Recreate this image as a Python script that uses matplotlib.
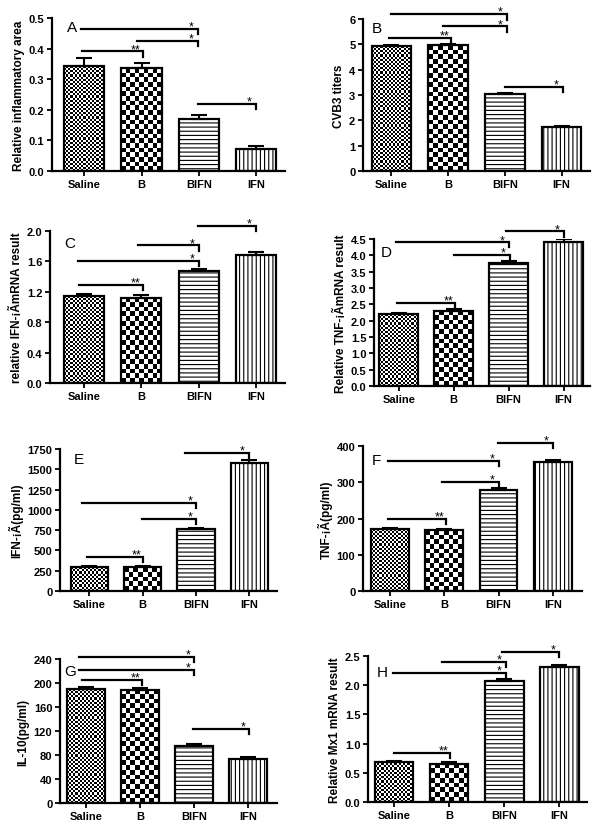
import numpy as np
import matplotlib
matplotlib.use('Agg')
import matplotlib.pyplot as plt
from matplotlib.ticker import FormatStrFormatter

plt.rcParams['font.family'] = ['Liberation Sans', 'DejaVu Sans']
plt.rcParams['hatch.linewidth'] = 0.8

categories = ['Saline', 'B', 'BIFN', 'IFN']

# ---- Panel A ----
a_vals = [0.342, 0.335, 0.169, 0.072]
a_err = [0.027, 0.019, 0.014, 0.009]
a_ticks = [0.0, 0.1, 0.2, 0.3, 0.4, 0.5]
a_sig_start = [-0.06, 0.92, -0.04, 1.99]
a_sig_end = [1.99, 1.99, 1.02, 3.0]
a_sig_y = [0.465, 0.426, 0.391, 0.22]
a_sig_label = ['*', '*', '**', '*']

# ---- Panel B ----
b_vals = [4.93, 4.96, 3.03, 1.73]
b_err = [0.03, 0.05, 0.03, 0.05]
b_ticks = [0, 1, 2, 3, 4, 5, 6]
b_sig_start = [0.0, 0.91, -0.04, 2.0]
b_sig_end = [2.03, 2.03, 1.05, 3.03]
b_sig_y = [6.19, 5.71, 5.25, 3.31]
b_sig_label = ['*', '*', '**', '*']

# ---- Panel C ----
c_vals = [1.14, 1.12, 1.47, 1.68]
c_err = [0.035, 0.04, 0.03, 0.05]
c_ticks = [0.0, 0.4, 0.8, 1.2, 1.6, 2.0]
c_sig_start = [1.99, 0.94, -0.11, -0.09]
c_sig_end = [3.0, 2.0, 2.0, 1.02]
c_sig_y = [2.07, 1.81, 1.605, 1.29]
c_sig_label = ['*', '*', '*', '**']

# ---- Panel D ----
d_vals = [2.20, 2.31, 3.78, 4.42]
d_err = [0.03, 0.04, 0.04, 0.08]
d_ticks = [0.0, 0.5, 1.0, 1.5, 2.0, 2.5, 3.0, 3.5, 4.0, 4.5]
d_sig_start = [1.95, -0.05, 1.01, -0.04]
d_sig_end = [3.01, 2.0, 2.02, 1.03]
d_sig_y = [4.73, 4.40, 4.02, 2.55]
d_sig_label = ['*', '*', '*', '**']

# ---- Panel E ----
e_vals = [295, 295, 760, 1582]
e_err = [8, 8, 22, 37]
e_ticks = [0, 250, 500, 750, 1000, 1250, 1500, 1750]
e_sig_start = [1.79, -0.13, 0.98, -0.04]
e_sig_end = [2.99, 2.01, 2.01, 1.01]
e_sig_y = [1705, 1086, 889, 422]
e_sig_label = ['*', '*', '*', '**']

# ---- Panel F ----
f_vals = [171, 168, 279, 356]
f_err = [4, 4, 5, 5]
f_ticks = [0, 100, 200, 300, 400]
f_sig_start = [1.99, -0.03, 0.95, -0.03]
f_sig_end = [3.0, 2.01, 2.01, 1.03]
f_sig_y = [409, 358, 302, 198]
f_sig_label = ['*', '*', '*', '**']

# ---- Panel G ----
g_vals = [189.5, 189, 95.5, 73]
g_err = [4.5, 3.5, 3.5, 4]
g_ticks = [0, 40, 80, 120, 160, 200, 240]
g_sig_start = [-0.13, -0.13, -0.08, 1.97]
g_sig_end = [2.0, 2.0, 1.04, 3.02]
g_sig_y = [244, 222, 205, 123]
g_sig_label = ['*', '*', '**', '*']

# ---- Panel H ----
h_vals = [0.69, 0.655, 2.08, 2.31]
h_err = [0.02, 0.025, 0.025, 0.035]
h_ticks = [0.0, 0.5, 1.0, 1.5, 2.0, 2.5]
h_sig_start = [1.96, 0.87, -0.02, 0.0]
h_sig_end = [3.0, 2.03, 2.03, 1.02]
h_sig_y = [2.57, 2.40, 2.21, 0.84]
h_sig_label = ['*', '*', '*', '**']

panels = [
    dict(letter='A', ylabel='Relative inflammatory area', vals=a_vals, err=a_err, ticks=a_ticks, fmt='%.1f',
         s0=a_sig_start, s1=a_sig_end, sy=a_sig_y, sl=a_sig_label,
         box=(52, 285, 19, 172), xlim=(-0.56, 3.5), lpos=(0.085, 0.94)),
    dict(letter='B', ylabel='CVB3 titers', vals=b_vals, err=b_err, ticks=b_ticks, fmt='%d',
         s0=b_sig_start, s1=b_sig_end, sy=b_sig_y, sl=b_sig_label,
         box=(363, 590, 20, 172), xlim=(-0.5, 3.5), lpos=(0.06, 0.94)),
    dict(letter='C', ylabel='relative IFN-¡ÃmRNA result', vals=c_vals, err=c_err, ticks=c_ticks, fmt='%.1f',
         s0=c_sig_start, s1=c_sig_end, sy=c_sig_y, sl=c_sig_label,
         box=(50, 285, 232, 384), xlim=(-0.59, 3.5), lpos=(0.085, 0.92)),
    dict(letter='D', ylabel='Relative TNF-¡ÃmRNA result', vals=d_vals, err=d_err, ticks=d_ticks, fmt='%.1f',
         s0=d_sig_start, s1=d_sig_end, sy=d_sig_y, sl=d_sig_label,
         box=(374, 590, 240, 387), xlim=(-0.45, 3.48), lpos=(0.055, 0.91)),
    dict(letter='E', ylabel='IFN-¡Ã(pg/ml)', vals=e_vals, err=e_err, ticks=e_ticks, fmt='%d',
         s0=e_sig_start, s1=e_sig_end, sy=e_sig_y, sl=e_sig_label,
         box=(60, 277, 450, 592), xlim=(-0.55, 3.52), lpos=(0.085, 0.93)),
    dict(letter='F', ylabel='TNF-¡Ã(pg/ml)', vals=f_vals, err=f_err, ticks=f_ticks, fmt='%d',
         s0=f_sig_start, s1=f_sig_end, sy=f_sig_y, sl=f_sig_label,
         box=(363, 582, 447, 592), xlim=(-0.5, 3.54), lpos=(0.063, 0.9)),
    dict(letter='G', ylabel='IL-10(pg/ml)', vals=g_vals, err=g_err, ticks=g_ticks, fmt='%d',
         s0=g_sig_start, s1=g_sig_end, sy=g_sig_y, sl=g_sig_label,
         box=(60, 277, 660, 804), xlim=(-0.48, 3.53), lpos=(0.046, 0.917)),
    dict(letter='H', ylabel='Relative Mx1 mRNA result', vals=h_vals, err=h_err, ticks=h_ticks, fmt='%.1f',
         s0=h_sig_start, s1=h_sig_end, sy=h_sig_y, sl=h_sig_label,
         box=(368, 587, 657, 803), xlim=(-0.47, 3.5), lpos=(0.063, 0.89)),
]

W, H = 600, 837
fig = plt.figure(figsize=(W / 100, H / 100), dpi=100)

bar_width = 0.7
checker_px = [2.1, 4.7]   # square size for Saline, B patterns
hatches = [None, None, '----', '||||']


def checker_fill(ax, rect, sq):
    x0, y0 = rect.get_xy()
    w, h = rect.get_width(), rect.get_height()
    p0 = ax.transData.transform((x0, y0))
    p1 = ax.transData.transform((x0 + w, y0 + h))
    ncol = max(1, int(round(abs(p1[0] - p0[0]) / sq)))
    nrow = max(1, int(round(abs(p1[1] - p0[1]) / sq)))
    ii, jj = np.indices((nrow, ncol))
    arr = ((ii + jj) % 2).astype(float)
    im = ax.imshow(arr, cmap='gray', vmin=0, vmax=1, extent=(x0, x0 + w, y0, y0 + h),
                   origin='lower', interpolation='nearest', aspect='auto', zorder=1.5)
    im.set_clip_path(rect)


for p in panels:
    L, R, T, B = p['box']
    ax = fig.add_axes([L / W, (H - B) / H, (R - L) / W, (B - T) / H])
    x = np.arange(len(categories))
    ymax = p['ticks'][-1]
    ax.set_xlim(*p['xlim'])
    ax.set_ylim(0, ymax)
    bars = ax.bar(x, p['vals'], width=bar_width, edgecolor='black', linewidth=1.6, zorder=2)
    for i, rect in enumerate(bars):
        if i < 2:
            rect.set_facecolor('none')
            checker_fill(ax, rect, checker_px[i])
        else:
            rect.set_facecolor('white')
            rect.set_hatch(hatches[i])
    ax.errorbar(x, p['vals'], yerr=[np.zeros(len(x)), p['err']], fmt='none', ecolor='black',
                elinewidth=1.5, capsize=5.5, capthick=1.5, zorder=3)
    ax.set_xlim(*p['xlim'])
    ax.set_ylim(0, ymax)

    drop = 0.035 * ymax
    for s0, s1, sy, sl in zip(p['s0'], p['s1'], p['sy'], p['sl']):
        ax.plot([s0, s1, s1], [sy, sy, sy - drop], color='black', lw=1.6, clip_on=False,
                solid_joinstyle='miter', zorder=4)
        ax.annotate(sl, xy=(s1 - 0.12, sy), xytext=(0, -0.5), textcoords='offset points',
                    ha='center', va='baseline', fontsize=9, annotation_clip=False, zorder=4)

    ax.text(p['lpos'][0], p['lpos'][1], p['letter'], transform=ax.transAxes, ha='center',
            va='center', fontsize=11)

    ax.set_xticks(x)
    ax.set_xticklabels(categories, fontsize=8, fontweight='bold')
    ax.set_yticks(p['ticks'])
    ax.yaxis.set_major_formatter(FormatStrFormatter(p['fmt']))
    for lab in ax.get_yticklabels():
        lab.set_fontweight('bold')
        lab.set_fontsize(8)
    ax.set_ylabel(p['ylabel'], fontsize=8.5, fontweight='bold', labelpad=3)
    ax.spines['top'].set_visible(False)
    ax.spines['right'].set_visible(False)
    ax.spines['left'].set_linewidth(1.6)
    ax.spines['bottom'].set_linewidth(1.6)
    ax.tick_params(axis='both', direction='out', length=3.5, width=1.3, pad=2)

fig.savefig('out.png', dpi=100, facecolor='white')
